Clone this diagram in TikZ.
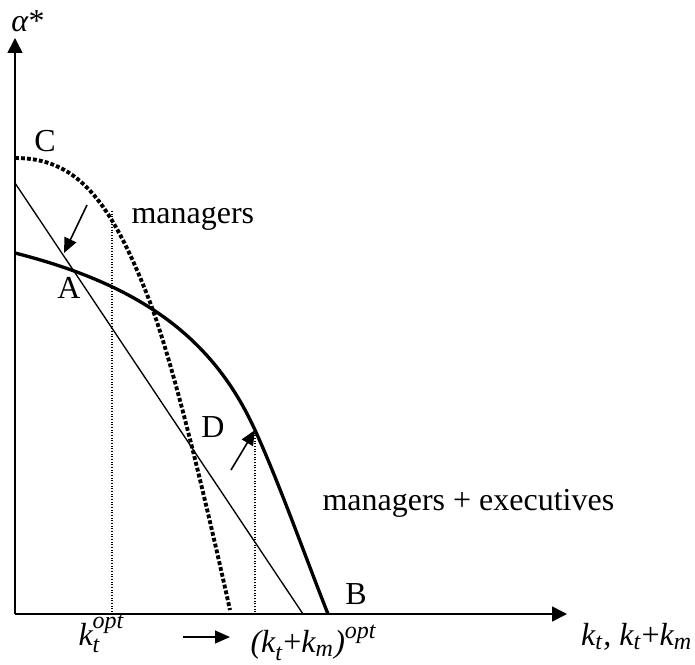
\documentclass[tikz,border=0pt]{standalone}
\usepackage{amsmath}
\usepackage{fontspec}
\setmainfont{Liberation Serif}
\usetikzlibrary{arrows.meta}
\DeclareMathSizes{12}{12}{9}{7}

\newcommand{\ivar}[1]{\textit{#1}}

\begin{document}
\begin{tikzpicture}[
  x=0.375pt, y=-0.375pt,
  every node/.style={inner sep=0pt,font=\fontsize{12}{14}\selectfont},
  axis/.style={line width=0.6pt,-{Triangle[length=5.6pt,width=5.6pt]}},
  mgrcurve/.style={line width=1.45pt,dash pattern=on 1.45pt off 0.8pt},
  execcurve/.style={line width=1.25pt},
  budget/.style={line width=0.5pt},
  guide/.style={line width=0.4pt,dash pattern=on 0.4pt off 0.6pt},
  shiftarrow/.style={line width=0.6pt,-{Triangle[length=5.6pt,width=4.8pt]}}
]
  \useasboundingbox (0,0) rectangle (695,664);
  % axes
  \coordinate (O) at (15,614);
  \coordinate (ytip) at (15,38);
  \coordinate (xtip) at (567,614);
  \draw[axis] (O) -- (ytip);
  \draw[axis] (O) -- (xtip);
  \node (alpha) at (28,21) {\ivar{α}*};
  \node[anchor=base east] (xlabel) at (693,645) {$\ivar{k}_{\ivar{t}}\text{\itshape, }\ivar{k}_{\ivar{t}}\text{+}\ivar{k}_{\ivar{m}}$};
  % managers only (dotted) and managers + executives (thick)
  \coordinate (Cpt) at (15,158);
  \coordinate (cross) at (148,297);
  \coordinate (Cend) at (230,610);
  \draw[mgrcurve] (Cpt) .. controls (75,158) and (109,197) .. (cross)
                        .. controls (168,348) and (195,452) .. (Cend);
  \coordinate (Apt) at (15,253);
  \coordinate (eopt) at (255,430);
  \coordinate (Bpt) at (328,614);
  \draw[execcurve] (Apt) .. controls (141,285) and (213,338) .. (eopt)
                         .. controls (280,485) and (305,556) .. (Bpt);
  % budget line
  \coordinate (budtop) at (15,183);
  \coordinate (budbot) at (303,614);
  \draw[budget] (budtop) -- (budbot);
  % optima
  \coordinate (mopt) at (112,211);
  \draw[guide] (mopt) -- (mopt |- O);
  \draw[guide] (eopt) -- (eopt |- O);
  \coordinate (a1) at (87,205);
  \coordinate (a2) at (64,253);
  \draw[shiftarrow] (a1) -- (a2);
  \coordinate (d1) at (231,470);
  \draw[shiftarrow] (d1) -- (eopt);
  % labels
  \node (C) at (45,141) {C};
  \node (A) at (69,288) {A};
  \node (D) at (213,427) {D};
  \node (B) at (356,594) {B};
  \node[anchor=base west] (mgr) at (131,223) {managers};
  \node[anchor=base west] (mgrexec) at (322,510) {managers + executives};
  \node[anchor=base west] (kopt) at (78,645) {$\ivar{k}_{\ivar{t}}^{\ivar{opt}}$};
  \node[anchor=base west] (kmopt) at (250,652) {$\text{\itshape(k}_{\ivar{t}}\text{+}\ivar{k}_{\ivar{m}}\text{\itshape)}^{\ivar{opt}}$};
  \coordinate (s1) at (183,637);
  \coordinate (s2) at (230,637);
  \draw[shiftarrow] (s1) -- (s2);
\end{tikzpicture}
\end{document}
